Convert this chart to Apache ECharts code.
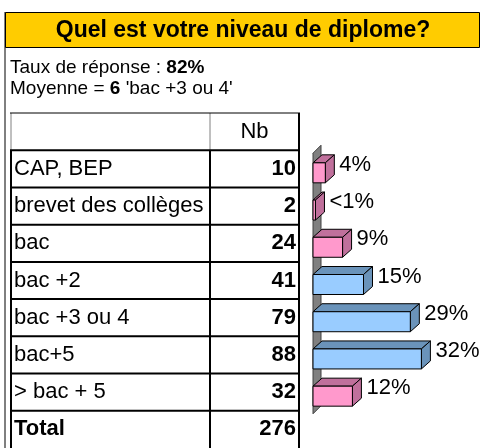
<!DOCTYPE html>
<html>
<head>
<meta charset="utf-8">
<script src="https://cdn.jsdelivr.net/npm/echarts@6/dist/echarts.min.js"></script>
<style>
  html, body { margin: 0; padding: 0; background: #fff; }
  #chart { width: 481px; height: 448px; }
</style>
</head>
<body>
<div id="chart"></div>
<script>
const title = 'Quel est votre niveau de diplome?';
const responseRate = '82%';
const meanValue = '6';
const meanLabel = "'bac +3 ou 4'";
const countHeader = 'Nb';
const totalLabel = 'Total';
const categories = ['CAP, BEP', 'brevet des collèges', 'bac', 'bac +2', 'bac +3 ou 4', 'bac+5', '> bac + 5'];
const counts = [10, 2, 24, 41, 79, 88, 32];

const total = counts.reduce((a, b) => a + b, 0);
const percents = counts.map(c => c / total * 100);
const rowNames = [''].concat(categories, [totalLabel]);

const FONT = '"Liberation Sans", Arial, sans-serif';
const HIGHLIGHT_MIN = 14; // bars from this share up are blue
const PINK = { front: '#FF99CC', dark: '#C0709C' };
const BLUE = { front: '#99CCFF', dark: '#6A93BA' };

// table columns (px)
const colLeft = 11, colMid = 210, colRight = 299;

function pctText(p) {
    return p < 1 ? '<1%' : Math.round(p) + '%';
}

const chart = echarts.init(document.getElementById('chart'), null, { renderer: 'canvas' });

function renderTable(params, api) {
    const i = api.value(1);
    const yc = api.coord([0, i])[1];
    const h = api.size([0, 1])[1];
    const top = yc - h / 2, bot = yc + h / 2;
    const children = [];
    const isHeader = i === 0;
    const isTotal = i === rowNames.length - 1;
    const lineCol = isHeader ? '#808080' : '#000';
    const lw = isHeader ? 1 : 2;
    // vertical lines
    children.push({ type: 'line', shape: { x1: colLeft, y1: top, x2: colLeft, y2: bot }, style: { stroke: lineCol, lineWidth: lw } });
    children.push({ type: 'line', shape: { x1: colMid, y1: top, x2: colMid, y2: bot }, style: { stroke: lineCol, lineWidth: lw } });
    children.push({ type: 'line', shape: { x1: colRight, y1: top, x2: colRight, y2: bot }, style: { stroke: '#000', lineWidth: 2 } });
    // top line
    children.push({ type: 'line', shape: { x1: colLeft - 1, y1: top, x2: colRight + 1, y2: top }, style: { stroke: '#000', lineWidth: isHeader ? 1 : 2 } });
    if (isHeader) {
        children.push({ type: 'text', style: { text: countHeader, x: (colMid + colRight) / 2, y: yc, align: 'center', verticalAlign: 'middle', font: '22px ' + FONT, fill: '#000' } });
    } else {
        const n = isTotal ? total : counts[i - 1];
        children.push({ type: 'text', style: { text: rowNames[i], x: colLeft + 3, y: yc, align: 'left', verticalAlign: 'middle', font: (isTotal ? 'bold ' : '') + '22px ' + FONT, fill: '#000' } });
        children.push({ type: 'text', style: { text: String(n), x: colRight - 3, y: yc, align: 'right', verticalAlign: 'middle', font: 'bold 22px ' + FONT, fill: '#000' } });
    }
    return { type: 'group', children: children };
}

function renderWall(params, api) {
    const h = api.size([0, 1])[1];
    const x0 = api.coord([0, 1])[0];
    const yTop = api.coord([0, 1])[1] - h / 2 + 3;
    const yBot = api.coord([0, categories.length])[1] + h / 2 + 3;
    const d = 8;
    return {
        type: 'polygon',
        shape: { points: [[x0, yTop], [x0 + d, yTop - d], [x0 + d, yBot - d], [x0, yBot]] },
        style: { fill: '#808080', stroke: '#404040', lineWidth: 1 }
    };
}

function renderBar(params, api) {
    const p = api.value(0);
    const i = api.value(1);
    const start = api.coord([0, i]);
    const end = api.coord([p, i]);
    const x0 = start[0], x1 = end[0], yc = start[1];
    const dx = 9, dy = 8;
    const ft = yc - 6, fb = yc + 14;
    const c = p >= HIGHLIGHT_MIN ? BLUE : PINK;
    const edge = { stroke: '#000', lineWidth: 1 };
    return {
        type: 'group',
        children: [
            { type: 'polygon', shape: { points: [[x0, ft], [x0 + dx, ft - dy], [x1 + dx, ft - dy], [x1, ft]] }, style: Object.assign({ fill: c.dark }, edge) },
            { type: 'polygon', shape: { points: [[x1, ft], [x1 + dx, ft - dy], [x1 + dx, fb - dy], [x1, fb]] }, style: Object.assign({ fill: c.dark }, edge) },
            { type: 'rect', shape: { x: x0, y: ft, width: x1 - x0, height: fb - ft }, style: Object.assign({ fill: c.front }, edge) },
            { type: 'text', style: { text: pctText(p), x: x1 + 14, y: yc - 4, align: 'left', verticalAlign: 'middle', font: '22px ' + FONT, fill: '#000' } }
        ]
    };
}

const option = {
    animation: false,
    backgroundColor: '#fff',
    grid: { left: 313, top: 113, width: 136, height: 37.625 * rowNames.length },
    xAxis: { type: 'value', min: 0, max: 40, show: false },
    yAxis: { type: 'category', data: rowNames, inverse: true, show: false },
    graphic: [
        { type: 'line', shape: { x1: 5, y1: 12, x2: 5, y2: 448 }, style: { stroke: '#000', lineWidth: 1 } },
        { type: 'rect', shape: { x: 5.5, y: 12.5, width: 474, height: 35 }, style: { fill: '#FFCC00', stroke: '#000', lineWidth: 1 } },
        { type: 'text', style: { text: title, x: 243, y: 30.5, align: 'center', verticalAlign: 'middle', font: 'bold 23px ' + FONT, fill: '#000' } },
        {
            type: 'text',
            style: {
                text: 'Taux de réponse : {b|' + responseRate + '}', x: 10, y: 68, align: 'left', verticalAlign: 'middle',
                font: '19px ' + FONT, fill: '#000',
                rich: { b: { fontWeight: 'bold', fontSize: 19, fontFamily: FONT } }
            }
        },
        {
            type: 'text',
            style: {
                text: 'Moyenne = {b|' + meanValue + '} ' + meanLabel, x: 10, y: 89, align: 'left', verticalAlign: 'middle',
                font: '19px ' + FONT, fill: '#000',
                rich: { b: { fontWeight: 'bold', fontSize: 19, fontFamily: FONT } }
            }
        }
    ],
    series: [
        {
            type: 'custom',
            name: 'table',
            z: 1,
            renderItem: renderTable,
            encode: { x: 0, y: 1 },
            data: rowNames.map((n, i) => [0, i])
        },
        {
            type: 'custom',
            name: 'wall',
            z: 2,
            renderItem: renderWall,
            encode: { x: 0, y: 1 },
            data: [[0, 1]]
        },
        {
            type: 'custom',
            name: 'share',
            z: 3,
            renderItem: renderBar,
            encode: { x: 0, y: 1 },
            data: percents.map((p, i) => [p, i + 1])
        }
    ]
};

chart.setOption(option);
</script>
</body>
</html>
